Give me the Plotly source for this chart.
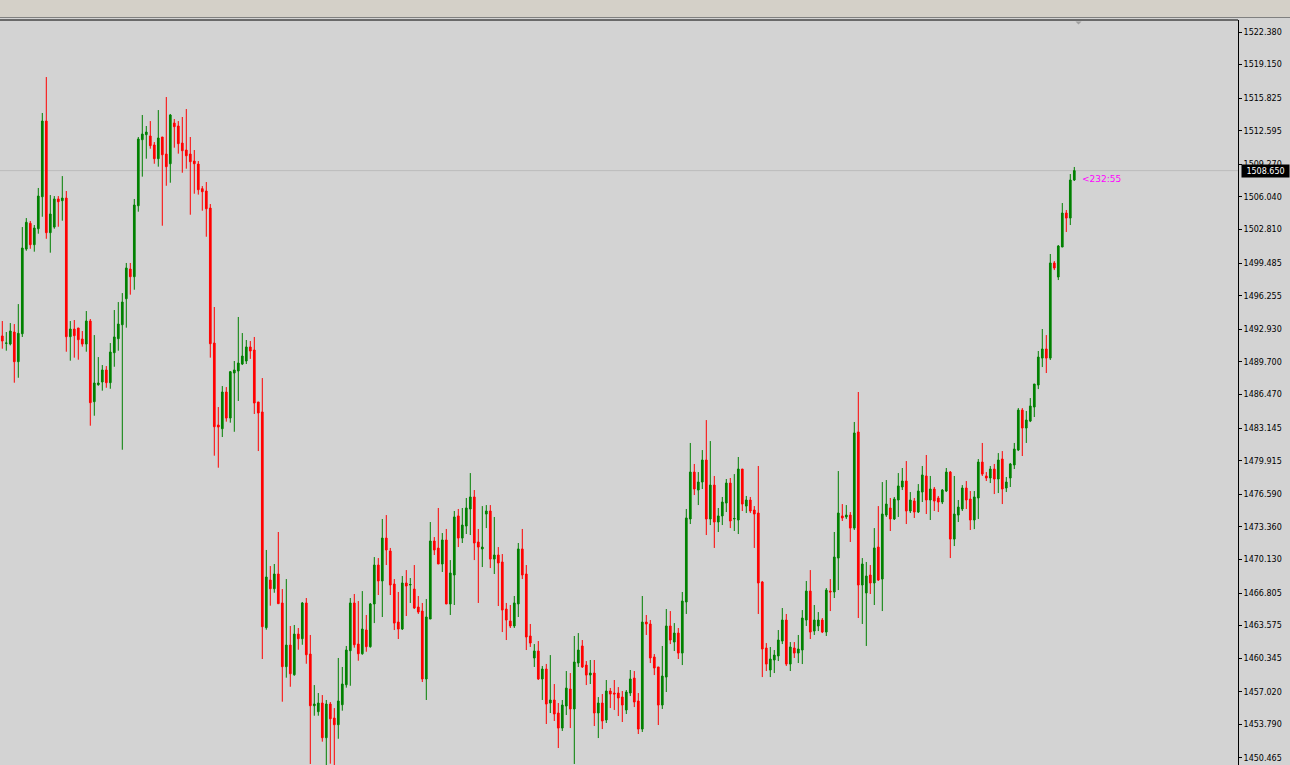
import plotly.graph_objects as go

opens = [1492.27,1491.54,1491.47,1492.66,1489.72,1492.49,1500.88,1503.43,1501.31,1502.89,
1506.06,1513.56,1502.50,1503.06,1505.84,1505.67,1505.93,1492.20,1492.96,1493.06,
1491.97,1491.47,1493.75,1485.76,1487.44,1487.71,1488.90,1487.64,1490.61,1492.00,
1493.38,1495.96,1498.90,1498.14,1505.17,1511.71,1512.21,1512.08,1511.19,1509.83,
1511.98,1510.29,1509.33,1513.36,1513.07,1511.38,1510.69,1510.29,1509.60,1509.30,
1506.86,1506.63,1504.94,1491.57,1483.45,1483.08,1486.72,1484.14,1488.60,1488.80,
1489.49,1489.79,1491.18,1490.88,1485.73,1484.74,1463.37,1468.09,1467.23,1468.69,
1465.82,1459.51,1461.65,1458.71,1462.74,1462.28,1465.82,1460.76,1455.64,1455.05,
1455.91,1452.47,1455.81,1454.42,1453.76,1455.74,1457.72,1461.09,1465.82,1461.75,
1460.79,1463.14,1461.49,1465.72,1469.58,1468.00,1472.25,1470.97,1467.70,1463.93,
1463.24,1467.80,1467.60,1467.20,1465.42,1465.02,1458.29,1464.23,1471.96,1471.26,
1469.68,1472.06,1465.72,1468.59,1474.44,1472.25,1473.44,1475.13,1476.32,1471.86,
1471.17,1474.63,1474.93,1470.17,1470.57,1469.88,1465.22,1464.03,1463.54,1465.72,
1471.17,1468.69,1462.55,1460.37,1461.06,1458.29,1459.28,1455.91,1456.21,1454.92,
1453.43,1455.61,1457.30,1455.32,1459.87,1461.56,1459.67,1458.68,1458.88,1454.92,
1455.91,1454.23,1457.10,1456.90,1456.90,1456.50,1455.22,1456.90,1458.38,1456.11,
1453.33,1463.93,1463.74,1460.47,1459.48,1455.71,1458.48,1463.54,1461.95,1462.84,
1460.86,1465.92,1474.14,1478.79,1477.01,1477.80,1479.98,1474.14,1477.50,1473.84,
1474.44,1475.72,1477.70,1474.14,1474.04,1479.09,1475.42,1476.02,1475.03,1474.73,
1467.90,1461.36,1459.18,1460.17,1460.57,1462.05,1464.13,1459.77,1461.36,1460.86,
1461.16,1464.13,1467.00,1463.04,1463.54,1464.13,1462.94,1467.00,1466.91,1470.27,
1474.44,1474.34,1474.53,1473.24,1482.76,1467.60,1466.81,1468.59,1467.80,1471.36,
1468.19,1474.53,1475.23,1474.14,1476.02,1477.31,1477.90,1474.93,1475.92,1474.83,
1476.81,1478.40,1476.02,1477.11,1476.22,1475.82,1476.91,1478.79,1472.15,1474.53,
1475.13,1477.21,1476.12,1474.04,1476.22,1479.78,1478.40,1478.20,1479.09,1478.10,
1480.08,1477.21,1478.20,1479.49,1480.97,1484.93,1483.15,1483.84,1485.23,1487.41,
1490.08,1490.98,1490.08,1499.50,1498.11,1501.08,1504.45,1503.95,1507.72]

highs = [1493.75,1492.66,1493.55,1493.45,1495.43,1503.06,1503.95,1503.66,1503.26,1506.93,
1514.36,1517.92,1506.23,1506.13,1506.13,1508.11,1506.63,1493.75,1493.85,1493.06,
1492.76,1494.74,1493.95,1492.36,1490.18,1489.39,1489.29,1491.57,1494.84,1495.63,
1496.52,1499.50,1499.50,1505.84,1511.98,1514.16,1513.07,1513.56,1511.48,1514.65,
1511.98,1515.94,1514.26,1513.76,1513.56,1513.96,1514.75,1511.98,1510.69,1509.60,
1507.12,1507.52,1505.34,1495.14,1485.23,1487.31,1487.21,1488.80,1489.79,1494.15,
1492.56,1491.87,1491.77,1492.17,1485.73,1488.10,1471.07,1469.48,1469.68,1472.85,
1467.20,1468.19,1463.54,1463.64,1463.34,1465.92,1466.31,1462.65,1457.69,1456.90,
1456.70,1456.21,1456.01,1455.41,1460.37,1459.48,1461.56,1466.31,1466.71,1466.01,
1467.00,1464.63,1465.82,1470.37,1470.27,1474.14,1474.53,1471.27,1468.19,1466.91,
1468.49,1469.08,1468.29,1469.58,1466.51,1465.82,1466.21,1473.84,1472.35,1475.23,
1472.75,1473.15,1470.07,1474.93,1475.13,1475.23,1476.22,1478.69,1477.01,1473.15,
1475.42,1475.52,1475.52,1474.34,1471.36,1470.67,1465.82,1465.62,1466.51,1471.76,
1473.15,1469.58,1463.74,1461.75,1462.05,1459.58,1459.78,1460.66,1457.79,1455.91,
1456.21,1459.08,1458.88,1462.55,1462.84,1462.15,1460.07,1460.17,1460.17,1456.50,
1456.80,1458.19,1457.40,1458.19,1457.49,1457.10,1457.20,1459.18,1459.08,1456.90,
1466.51,1464.63,1464.13,1460.76,1459.48,1461.56,1465.22,1465.02,1463.83,1463.34,
1466.91,1475.13,1481.67,1479.59,1478.79,1480.97,1483.94,1481.86,1478.40,1475.23,
1476.32,1478.10,1478.20,1478.59,1480.28,1479.09,1476.42,1476.32,1475.42,1479.39,
1468.00,1461.85,1461.46,1461.16,1463.14,1465.32,1464.73,1461.95,1461.95,1462.65,
1465.12,1468.00,1469.08,1465.62,1464.92,1464.33,1467.30,1468.19,1472.85,1478.89,
1475.62,1475.52,1474.83,1483.75,1486.72,1470.27,1469.88,1469.58,1473.24,1475.42,
1477.80,1478.00,1476.22,1476.32,1478.69,1479.19,1479.88,1476.81,1476.22,1477.60,
1479.39,1480.48,1478.40,1477.31,1476.42,1477.11,1479.19,1478.89,1478.40,1476.02,
1477.50,1477.90,1476.91,1476.91,1480.08,1481.67,1478.79,1479.39,1479.59,1480.67,
1480.87,1478.30,1479.69,1481.67,1485.13,1485.13,1484.84,1486.12,1487.51,1490.78,
1492.96,1492.36,1500.39,1499.69,1501.28,1505.44,1504.75,1508.31,1509.01]

lows = [1491.01,1490.81,1491.34,1487.64,1488.13,1492.17,1500.71,1500.91,1500.62,1502.40,
1504.08,1501.90,1500.52,1502.89,1503.09,1503.69,1490.71,1489.82,1490.12,1489.92,
1491.21,1490.71,1483.38,1484.37,1487.34,1486.85,1487.14,1487.04,1489.22,1490.81,
1481.00,1493.09,1496.36,1496.85,1504.58,1508.05,1509.83,1510.82,1509.33,1509.04,
1503.19,1507.15,1507.45,1510.92,1510.33,1508.44,1508.84,1504.28,1506.36,1506.27,
1504.68,1502.10,1490.12,1480.41,1479.22,1482.26,1483.78,1483.68,1482.78,1485.83,
1489.39,1489.49,1490.00,1484.54,1480.87,1460.27,1463.17,1465.55,1466.83,1465.75,
1456.04,1458.42,1457.52,1458.61,1461.19,1461.68,1459.80,1449.87,1454.65,1454.65,
1452.08,1449.67,1449.90,1449.67,1452.37,1455.15,1457.43,1457.62,1461.39,1460.10,
1460.69,1460.99,1461.39,1463.83,1466.61,1464.43,1469.58,1466.61,1463.14,1462.25,
1463.14,1464.53,1465.82,1465.22,1464.73,1457.99,1456.21,1464.23,1470.57,1469.68,
1468.89,1465.72,1464.63,1465.62,1471.36,1471.76,1472.65,1472.55,1470.07,1465.82,
1469.38,1473.24,1469.28,1468.69,1465.52,1462.94,1462.15,1463.34,1463.34,1464.43,
1468.19,1461.16,1461.46,1459.48,1458.19,1456.21,1453.83,1454.92,1454.13,1451.45,
1453.14,1454.72,1453.43,1449.87,1459.48,1459.38,1457.69,1457.79,1453.63,1452.44,
1453.33,1453.93,1455.41,1455.22,1454.62,1454.03,1454.82,1456.60,1455.51,1452.84,
1453.04,1462.65,1459.87,1458.68,1453.73,1455.32,1457.00,1461.75,1461.06,1460.27,
1459.67,1464.73,1473.64,1476.51,1475.52,1477.11,1472.55,1473.54,1471.27,1472.85,
1473.54,1474.83,1473.24,1472.95,1472.65,1474.93,1474.73,1474.73,1471.27,1464.73,
1458.48,1459.08,1458.48,1458.88,1460.07,1461.75,1459.58,1459.08,1460.37,1459.87,
1459.77,1463.54,1462.25,1462.65,1463.04,1462.84,1462.55,1465.02,1466.31,1467.10,
1473.94,1474.14,1471.86,1473.05,1464.33,1463.74,1461.56,1466.71,1465.62,1468.00,
1465.02,1474.34,1472.95,1474.04,1474.34,1477.01,1473.64,1474.73,1474.24,1474.73,
1475.82,1474.63,1474.04,1474.93,1474.83,1475.62,1476.81,1470.27,1471.46,1473.84,
1474.93,1475.13,1473.05,1473.14,1474.14,1478.40,1477.90,1477.70,1476.61,1476.71,
1475.62,1476.81,1477.31,1479.09,1480.87,1480.38,1481.67,1483.74,1484.24,1487.01,
1489.19,1488.60,1489.89,1498.80,1497.81,1501.08,1502.57,1503.26,1507.62]

closes = [1491.77,1491.57,1492.76,1489.72,1492.53,1500.98,1503.53,1501.31,1502.96,1506.13,
1513.56,1502.50,1504.35,1505.84,1505.57,1505.93,1492.20,1492.96,1492.30,1491.90,
1491.47,1493.75,1485.66,1487.61,1487.61,1488.90,1487.64,1490.68,1492.17,1493.45,
1495.63,1499.00,1498.14,1505.24,1511.78,1512.27,1512.47,1511.12,1509.83,1511.88,
1510.22,1509.04,1514.16,1513.00,1511.32,1510.62,1510.12,1509.53,1509.33,1506.76,
1506.56,1504.87,1491.50,1483.28,1483.25,1486.72,1484.14,1488.73,1488.90,1489.59,
1490.28,1491.18,1490.78,1485.63,1484.64,1463.47,1468.39,1467.23,1468.69,1465.75,
1459.51,1461.65,1458.81,1462.74,1462.28,1465.82,1460.69,1455.64,1455.81,1455.91,
1452.47,1455.81,1454.35,1453.76,1456.11,1457.79,1461.16,1465.82,1461.68,1460.79,
1463.24,1461.49,1465.72,1469.58,1468.00,1472.25,1471.07,1467.60,1463.83,1463.24,
1467.80,1467.50,1467.65,1465.32,1464.92,1458.29,1464.43,1471.96,1471.07,1469.68,
1472.06,1465.72,1468.79,1474.34,1472.25,1473.54,1475.23,1476.32,1471.76,1471.36,
1471.36,1474.93,1470.17,1470.57,1469.78,1465.12,1464.13,1463.54,1465.82,1471.17,
1468.59,1462.45,1461.85,1461.06,1458.29,1459.28,1455.81,1456.21,1454.82,1453.43,
1455.71,1457.39,1455.32,1459.97,1461.16,1459.48,1458.68,1458.88,1454.92,1455.91,
1454.13,1457.10,1456.80,1456.80,1456.41,1455.71,1457.00,1458.29,1456.01,1453.33,
1463.93,1463.74,1460.37,1459.38,1455.71,1458.58,1463.54,1462.15,1462.84,1460.86,
1466.01,1474.24,1478.79,1477.11,1477.80,1479.98,1474.14,1477.50,1473.84,1474.44,
1475.82,1477.70,1473.94,1474.19,1479.09,1475.62,1476.02,1474.93,1474.63,1467.80,
1461.26,1459.77,1460.27,1460.66,1462.15,1464.13,1459.77,1461.46,1460.86,1461.26,
1464.33,1467.00,1462.94,1464.13,1464.13,1462.94,1467.10,1466.91,1470.37,1474.73,
1474.24,1474.53,1473.24,1482.66,1467.60,1469.68,1468.49,1467.80,1471.27,1468.09,
1474.63,1475.62,1474.14,1476.12,1477.41,1477.90,1474.93,1476.02,1474.83,1476.91,
1478.50,1476.02,1477.11,1475.92,1475.82,1477.01,1478.79,1472.15,1474.63,1475.32,
1477.21,1476.02,1474.04,1476.32,1479.78,1478.59,1478.20,1479.09,1478.10,1479.98,
1477.11,1477.80,1479.59,1481.07,1484.93,1483.15,1483.94,1485.33,1487.51,1490.18,
1490.98,1490.08,1499.50,1499.00,1501.18,1504.45,1503.95,1507.72,1508.65]

tick_values = [1522.380, 1519.150, 1515.825, 1512.595, 1509.270, 1506.040, 1502.810,
               1499.485, 1496.255, 1492.930, 1489.700, 1486.470, 1483.145, 1479.915,
               1476.590, 1473.360, 1470.130, 1466.805, 1463.575, 1460.345, 1457.020,
               1453.790, 1450.465]
tick_labels = ["%.3f" % v for v in tick_values]

last_price = 1508.650
last_price_label = "1508.650"
countdown_text = "<232:55"

bars = list(range(len(closes)))

W, H = 1290, 765
ML, MR, MT, MB = 0, 52, 20, 0
plot_w = W - ML - MR
plot_h = H - MT - MB

def py(pix):
    # pixel row -> paper y
    return (H - MB - pix) / plot_h

fig = go.Figure()
fig.add_trace(go.Candlestick(
    x=bars, open=opens, high=highs, low=lows, close=closes,
    increasing=dict(line=dict(color="#008000", width=1), fillcolor="#008000"),
    decreasing=dict(line=dict(color="#ff0000", width=1), fillcolor="#ff0000"),
    whiskerwidth=0,
    showlegend=False,
    hoverinfo="skip",
))

shapes = [
    # title strip
    dict(type="rect", xref="paper", yref="paper", x0=0, x1=W / plot_w, y0=py(17), y1=py(0),
         fillcolor="#d4d0c8", line=dict(width=0), layer="below"),
    dict(type="line", xref="paper", yref="paper", x0=0, x1=W / plot_w, y0=py(17.5), y1=py(17.5),
         line=dict(color="#808080", width=1)),
    # top frame of chart
    dict(type="line", xref="paper", yref="paper", x0=0, x1=1, y0=1, y1=1,
         line=dict(color="#000000", width=1)),
    # current price line
    dict(type="line", xref="paper", yref="y", x0=0, x1=1, y0=last_price, y1=last_price,
         line=dict(color="#bcbcbc", width=1), layer="below"),
    # chart shift marker
    dict(type="path", xref="x", yref="paper",
         path="M 268.3 %f L 269.8 %f L 269.05 %f Z" % (py(21.5), py(21.5), py(24.5)),
         fillcolor="#a0a0a0", line=dict(width=0)),
]

annotations = [
    dict(x=1 + 3 / plot_w, xref="paper", xanchor="left", y=last_price, yref="y", yanchor="middle",
         text=last_price_label, showarrow=False, bgcolor="#000000",
         font=dict(family="DejaVu Sans", size=8, color="#ffffff"),
         width=45, height=10, borderpad=1, align="center"),
    dict(x=269.4, xref="x", xanchor="left", y=1507.8, yref="y", yanchor="middle",
         text=countdown_text, showarrow=False,
         font=dict(family="DejaVu Sans", size=9, color="#ff00ff")),
]

fig.update_layout(
    width=W, height=H,
    margin=dict(l=ML, r=MR, t=MT, b=MB, pad=0),
    paper_bgcolor="#d3d3d3", plot_bgcolor="#d3d3d3",
    showlegend=False,
    boxgap=0.4,
    xaxis=dict(range=[-0.575, -0.575 + plot_w / 4.0], visible=False,
               rangeslider=dict(visible=False), fixedrange=True),
    yaxis=dict(side="right", range=[1449.77, 1523.57], tickvals=tick_values, ticktext=tick_labels,
               ticks="outside", ticklen=3, tickcolor="#000000", tickwidth=1,
               showline=True, linecolor="#000000", linewidth=1,
               showgrid=False, zeroline=False,
               tickfont=dict(family="DejaVu Sans", size=8, color="#000000")),
    shapes=shapes,
    annotations=annotations,
)

fig.write_html("out.html", config={"displayModeBar": False},
               post_script="document.body.style.margin='0px';document.body.style.overflow='hidden';")
